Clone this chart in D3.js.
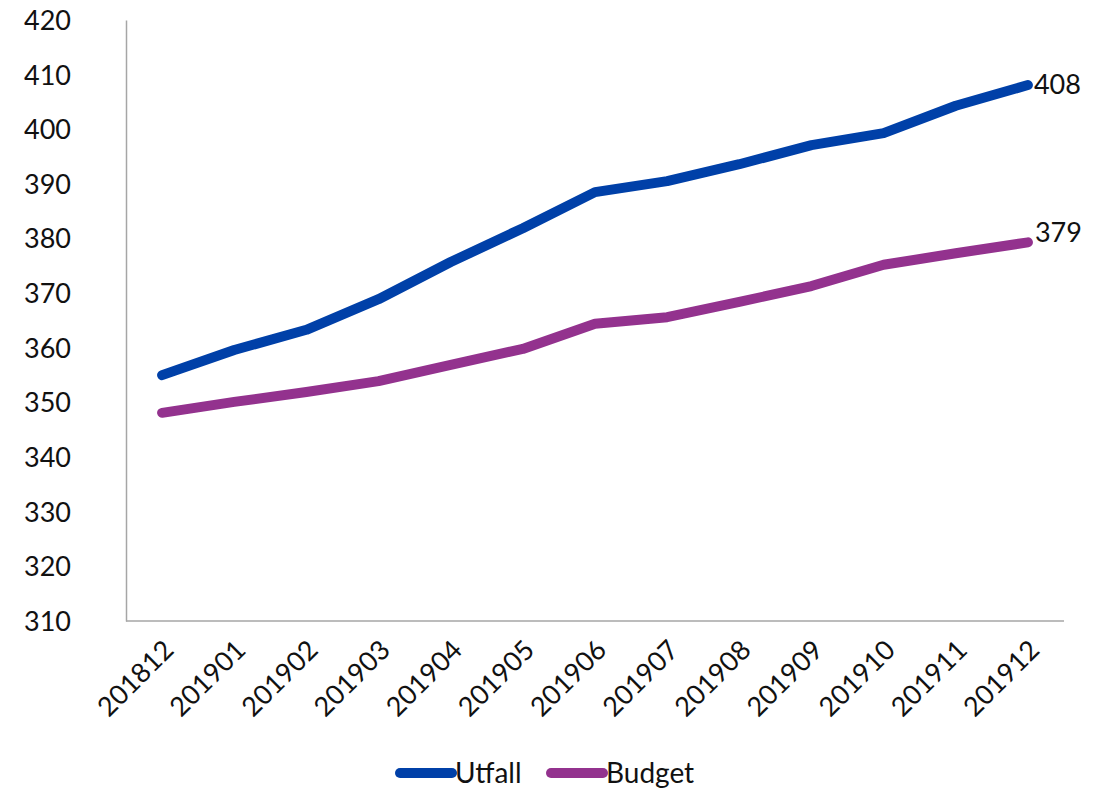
<!DOCTYPE html>
<html><head><meta charset="utf-8">
<script src="https://cdn.jsdelivr.net/npm/d3@7"></script>
<style>body{margin:0;background:#fff}svg{display:block}text{font-family:Lato,"Open Sans",sans-serif;fill:#111}</style>
</head><body><svg id="c" width="1111" height="789"></svg>
<script>
const categories = ["201812","201901","201902","201903","201904","201905","201906","201907","201908","201909","201910","201911","201912"];
const utfall = [355.0,359.6,363.3,368.9,375.7,381.9,388.5,390.5,393.6,397.1,399.3,404.3,408.1];
const budget = [348.1,350.1,351.9,353.9,356.9,359.8,364.4,365.6,368.4,371.3,375.2,377.3,379.3];
const yTicks = [310,320,330,340,350,360,370,380,390,400,410,420];
const seriesNames = ["Utfall","Budget"];
const colors = ["#0040A8","#93328E"];

const svg = d3.select("#c");
const L=126, R=1064, T=20, B=621;
const x = d3.scalePoint().domain(categories).range([L,R]).padding(0.5);
const y = d3.scaleLinear().domain([310,420]).range([B,T]);

// axes
const yAx = svg.append("g").attr("transform",`translate(${L},0)`)
  .call(d3.axisLeft(y).tickValues(yTicks).tickSize(0).tickPadding(55));
yAx.select(".domain").attr("stroke","#a6a6a6").attr("stroke-width",1.5);
yAx.selectAll("text").style("font-size","27px").attr("dy","0.35em");

const xAx = svg.append("g").attr("transform",`translate(0,${B})`)
  .call(d3.axisBottom(x).tickSize(0).tickSizeOuter(0));
xAx.select(".domain").attr("stroke","#a6a6a6").attr("stroke-width",1.5).attr("d",`M${L},0H${R}`);
xAx.selectAll("text").style("font-size","27px").attr("text-anchor","end")
  .attr("transform","translate(6,24) rotate(-45)").attr("dy","0.35em").attr("y",0).attr("x",0);

const line = d3.line().x((d,i)=>x(categories[i])).y(d=>y(d));
[utfall,budget].forEach((s,k)=>{
  svg.append("path").datum(s).attr("d",line).attr("fill","none")
    .attr("stroke",colors[k]).attr("stroke-width",10).attr("stroke-linecap","round").attr("stroke-linejoin","round");
});
// end labels
svg.append("text").attr("x",x(categories[12])+6).attr("y",y(utfall[12])).attr("dy","0.35em")
  .style("font-size","27px").text(Math.round(utfall[12]));
svg.append("text").attr("x",x(categories[12])+7).attr("y",y(budget[12])-10).attr("dy","0.35em")
  .style("font-size","27px").text(Math.round(budget[12]));

// legend
const lg = [{x:400},{x:551}];
seriesNames.forEach((n,k)=>{
  const g = svg.append("g");
  g.append("line").attr("x1",lg[k].x).attr("x2",lg[k].x+52).attr("y1",773).attr("y2",773)
    .attr("stroke",colors[k]).attr("stroke-width",10).attr("stroke-linecap","round");
  g.append("text").attr("x",lg[k].x+55).attr("y",773).attr("dy","0.35em").style("font-size","28px").text(n);
});
</script></body></html>
